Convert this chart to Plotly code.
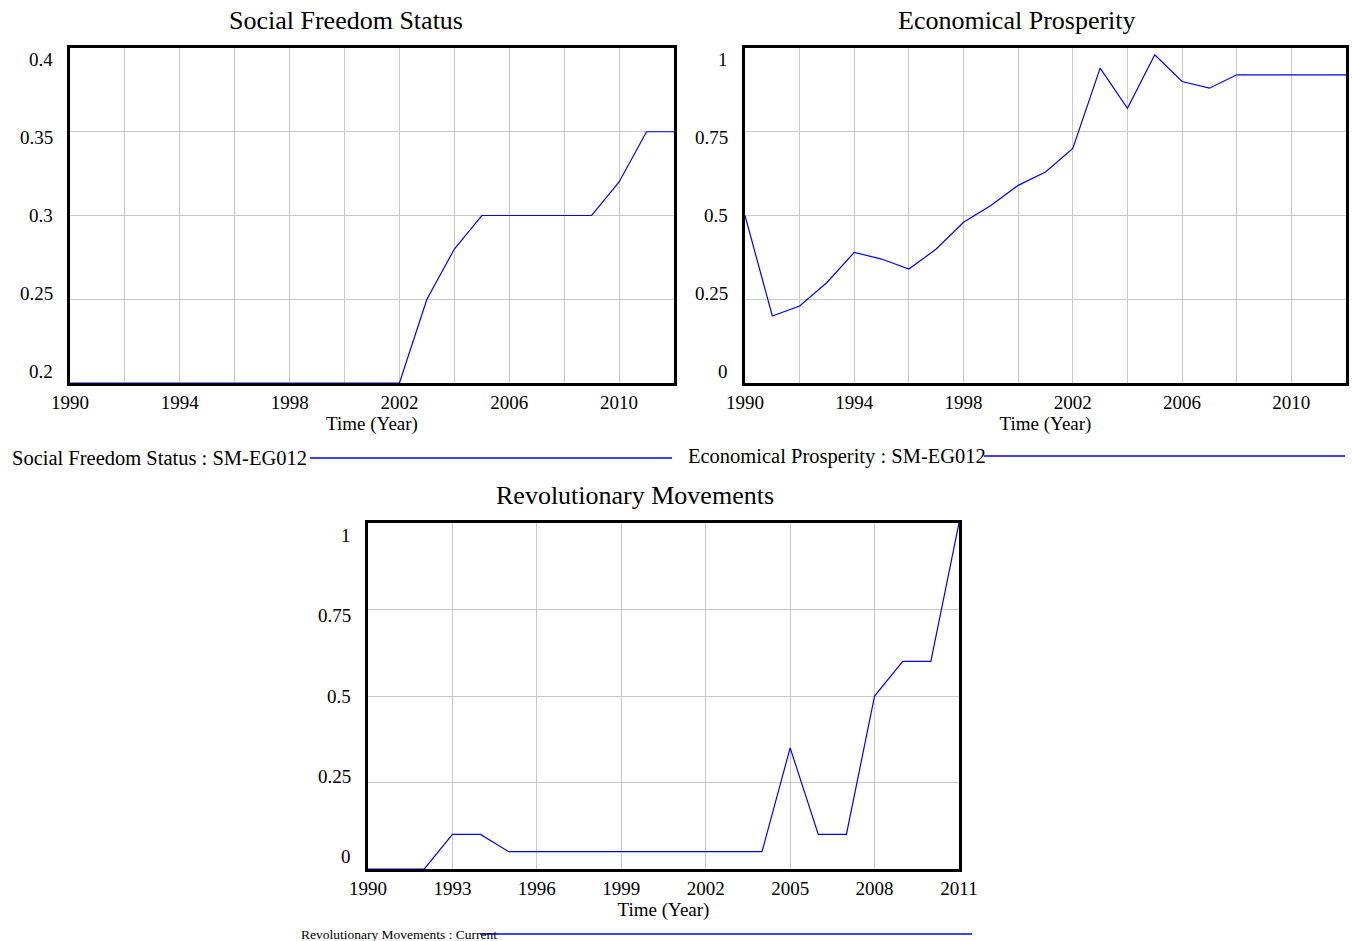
import plotly.graph_objects as go

W, H = 1352, 941

# ---- data -----------------------------------------------------------------
years_a = [1990, 1991, 1992, 1993, 1994, 1995, 1996, 1997, 1998, 1999, 2000, 2001,
           2002, 2003, 2004, 2005, 2006, 2007, 2008, 2009, 2010, 2011, 2012]
social_freedom = [0.2, 0.2, 0.2, 0.2, 0.2, 0.2, 0.2, 0.2, 0.2, 0.2, 0.2, 0.2,
                  0.2, 0.25, 0.28, 0.3, 0.3, 0.3, 0.3, 0.3, 0.32, 0.35, 0.35]
economic_prosperity = [0.5, 0.2, 0.23, 0.30, 0.39, 0.37, 0.34, 0.40, 0.48, 0.53, 0.59, 0.63,
                       0.70, 0.94, 0.82, 0.98, 0.90, 0.88, 0.92, 0.92, 0.92, 0.92, 0.92]

years_b = [1990, 1991, 1992, 1993, 1994, 1995, 1996, 1997, 1998, 1999, 2000,
           2001, 2002, 2003, 2004, 2005, 2006, 2007, 2008, 2009, 2010, 2011]
revolutionary = [0, 0, 0, 0.1, 0.1, 0.05, 0.05, 0.05, 0.05, 0.05, 0.05,
                 0.05, 0.05, 0.05, 0.05, 0.35, 0.1, 0.1, 0.5, 0.6, 0.6, 1.0]

sfs_ticks = [0.2, 0.25, 0.3, 0.35, 0.4]
sfs_labels = ["0.2", "0.25", "0.3", "0.35", "0.4"]
unit_ticks = [0, 0.25, 0.5, 0.75, 1]
unit_labels = ["0", "0.25", "0.5", "0.75", "1"]

titles = ["Social Freedom Status", "Economical Prosperity", "Revolutionary Movements"]
legend_texts = ["Social Freedom Status : SM-EG012",
                "Economical Prosperity : SM-EG012",
                "Revolutionary Movements : Current"]

FONT = "Liberation Serif"
BLUE = "#0000ff"
GRID = "#c8c8c8"


def px(x):
    return x / W


def py(y):
    return 1 - y / H


fig = go.Figure()
fig.add_trace(go.Scatter(x=years_a, y=social_freedom, mode="lines",
                         line=dict(color=BLUE, width=1.2), xaxis="x", yaxis="y",
                         showlegend=False))
fig.add_trace(go.Scatter(x=years_a, y=economic_prosperity, mode="lines",
                         line=dict(color=BLUE, width=1.2), xaxis="x2", yaxis="y2",
                         showlegend=False))
fig.add_trace(go.Scatter(x=years_b, y=revolutionary, mode="lines",
                         line=dict(color=BLUE, width=1.2), xaxis="x3", yaxis="y3",
                         showlegend=False))

tickfont = dict(family=FONT, size=19, color="black")


def xaxis(domain, rng, dtick, minor, anchor, standoff):
    ax = dict(domain=domain, range=rng, anchor=anchor, tick0=1990, dtick=dtick,
              showgrid=True, gridcolor=GRID, gridwidth=1,
              showline=True, linecolor="black", linewidth=2.5, mirror=True,
              ticks="", tickfont=tickfont, zeroline=False, automargin=False,
              layer="below traces",
              title=dict(text="Time (Year)", font=tickfont, standoff=standoff))
    if minor:
        ax["minor"] = dict(dtick=minor, tick0=1990, showgrid=True,
                           gridcolor=GRID, gridwidth=1, ticks="")
    return ax


def yaxis(domain, rng, tickvals, anchor):
    return dict(domain=domain, range=rng, anchor=anchor, tickvals=tickvals,
                showticklabels=False, showgrid=True, gridcolor=GRID, gridwidth=1,
                showline=True, linecolor="black", linewidth=2.5, mirror=True,
                ticks="", zeroline=False, automargin=False, layer="below traces")


top_dom = [py(383), py(48)]
bot_dom = [py(869), py(523)]

fig.update_layout(
    width=W, height=H, margin=dict(l=0, r=0, t=0, b=0),
    paper_bgcolor="white", plot_bgcolor="white",
    font=dict(family=FONT, color="black"),
    xaxis=xaxis([px(70), px(674)], [1990, 2012], 4, 2, "y", 5),
    yaxis=yaxis(top_dom, [0.2, 0.4], sfs_ticks, "x"),
    xaxis2=xaxis([px(745), px(1346)], [1990, 2012], 4, 2, "y2", 4),
    yaxis2=yaxis(top_dom, [0, 1], unit_ticks, "x2"),
    xaxis3=xaxis([px(368), px(959)], [1990, 2011], 3, None, "y3", 3),
    yaxis3=yaxis(bot_dom, [0, 1], unit_ticks, "x3"),
)

annotations = []

# value labels along each vertical axis (spread slightly inside the frame)
PAD = 0.035
for xr, yr, vals, labels, rng in [("x", "y", sfs_ticks, sfs_labels, (0.2, 0.4)),
                                  ("x2", "y2", unit_ticks, unit_labels, (0, 1)),
                                  ("x3", "y3", unit_ticks, unit_labels, (0, 1))]:
    for v, lab in zip(vals, labels):
        frac = (v - rng[0]) / (rng[1] - rng[0])
        annotations.append(dict(
            text=lab, xref=f"{xr} domain", yref=f"{yr} domain",
            x=0, y=PAD + (1 - 2 * PAD) * frac, xanchor="right", yanchor="middle",
            xshift=-15, showarrow=False, font=tickfont))

# panel titles
for t, cx, cy in zip(titles, [346, 1017, 635], [20, 20, 496]):
    annotations.append(dict(text=t, x=px(cx), y=py(cy), xref="paper", yref="paper",
                            xanchor="center", yanchor="middle", showarrow=False,
                            font=dict(family=FONT, size=26, color="black")))

# legend captions
legend_pos = [(10, 458, 20.5), (686, 456, 20.5), (299, 934, 13.5)]
for t, (lx, ly, fs) in zip(legend_texts, legend_pos):
    annotations.append(dict(text=t, x=px(lx), y=py(ly), xref="paper", yref="paper",
                            xanchor="left", yanchor="middle", showarrow=False,
                            font=dict(family=FONT, size=fs, color="black")))

fig.update_layout(annotations=annotations)

# legend sample lines
shapes = []
for x0, x1, yy in [(310, 672, 458), (984, 1345, 456), (480, 972, 934)]:
    shapes.append(dict(type="line", xref="paper", yref="paper",
                       x0=px(x0), x1=px(x1), y0=py(yy), y1=py(yy),
                       line=dict(color=BLUE, width=1.5)))
fig.update_layout(shapes=shapes)

fig.write_html("out.html")
